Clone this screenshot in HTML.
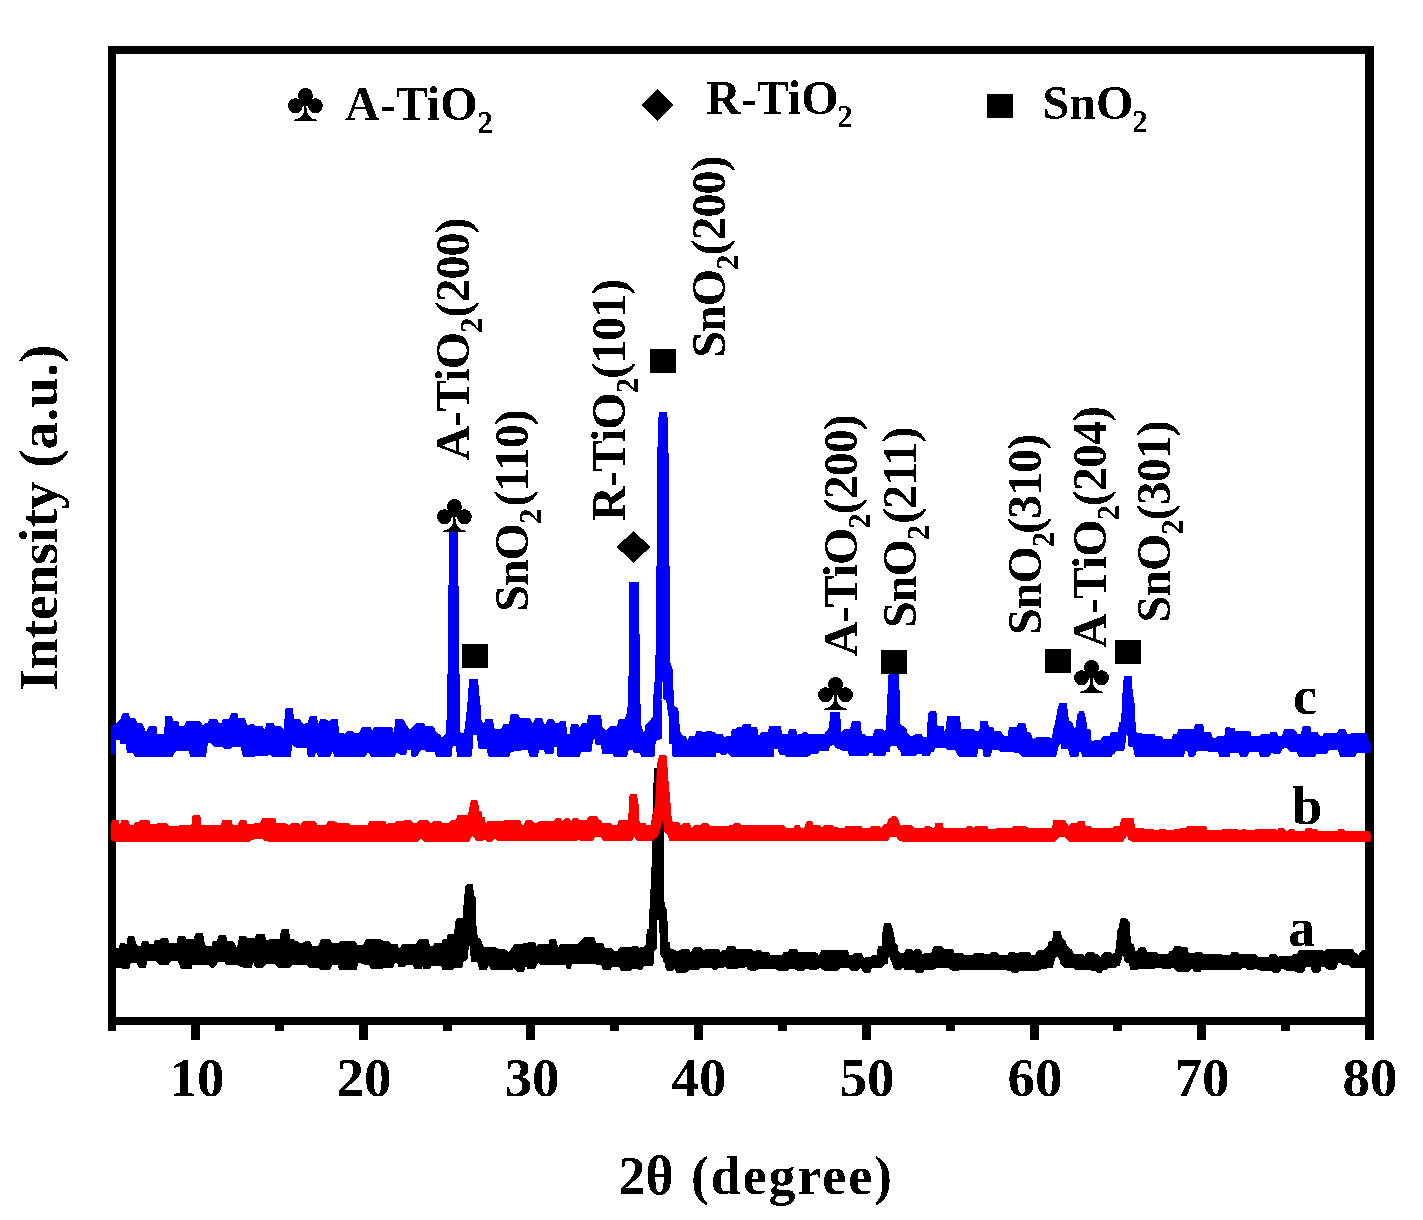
<!DOCTYPE html>
<html><head><meta charset="utf-8"><style>
html,body{margin:0;padding:0;background:#fff;width:1423px;height:1220px;overflow:hidden}
svg{display:block}
text{font-family:"Liberation Serif",serif;font-weight:bold;fill:#000}
</style></head><body>
<svg width="1423" height="1220" viewBox="0 0 1423 1220">
<defs>
<filter id="bin" x="0" y="0" width="100%" height="100%" color-interpolation-filters="sRGB"><feComponentTransfer><feFuncA type="discrete" tableValues="0 1"/></feComponentTransfer></filter>
<g id="club"><circle cx="0" cy="-25.6" r="7.5"/><circle cx="-10" cy="-15.3" r="7.4"/><circle cx="10" cy="-15.3" r="7.4"/><path d="M-3,-22 L3,-22 L4,-15 L-4,-15 Z"/><path d="M-1,-15 L1,-15 L1.3,-10 Q3,-4 7,-2.4 L11.5,-1.3 L11.5,0 L-11.5,0 L-11.5,-1.3 L-7,-2.4 Q-3,-4 -1.3,-10 Z"/></g>
</defs>
<g filter="url(#bin)">
<!-- frame -->
<g fill="#000">
<rect x="108" y="46" width="1266" height="8"/>
<rect x="108" y="1017" width="1266" height="8"/>
<rect x="108" y="46" width="8" height="979"/>
<rect x="1365" y="46" width="9" height="979"/>
<rect x="108" y="1025" width="8" height="6"/>
<rect x="191" y="1025" width="9" height="15"/>
<rect x="275" y="1025" width="9" height="6"/>
<rect x="359" y="1025" width="9" height="15"/>
<rect x="443" y="1025" width="9" height="6"/>
<rect x="526" y="1025" width="9" height="15"/>
<rect x="610" y="1025" width="9" height="6"/>
<rect x="694" y="1025" width="9" height="15"/>
<rect x="778" y="1025" width="9" height="6"/>
<rect x="862" y="1025" width="9" height="15"/>
<rect x="946" y="1025" width="9" height="6"/>
<rect x="1030" y="1025" width="9" height="15"/>
<rect x="1113" y="1025" width="9" height="6"/>
<rect x="1197" y="1025" width="9" height="15"/>
<rect x="1281" y="1025" width="9" height="6"/>
<rect x="1365" y="1025" width="9" height="15"/>
</g>
<path fill="#000" d="M111,948 115.5,947.9 118.7,947.9 119.8,943.2 125,943.2 126.5,944.8 127.7,936.3 134.5,936.3 136.1,943.7 137.7,945.8 140.8,945.8 141.9,941.6 148.2,941.6 149.3,944 153.5,944 155,940 159.8,940 160.9,938.4 168.2,938.4 169.3,942.7 176.7,942.7 177.7,936.3 185.1,936.3 186.7,939.5 193.5,939.5 195.1,933.5 203,933.5 204.6,942.7 206.2,946.1 211.5,946.1 212.5,941.6 216.7,941.6 218.8,934.8 226.2,934.8 227.3,941.6 233.6,941.6 236.8,947.9 239.4,936.3 246.2,936.3 248.4,938.4 254.2,938.4 256.3,934.2 264.8,934.2 266.3,940.6 269,939.5 279.5,939.5 281.1,929.5 289,929.5 290,939 294.3,939 295.3,941.6 298.5,941.6 299.5,943 302.7,943 304.8,941.6 310.1,941.6 312.2,945.8 318.5,945.8 320.6,939.5 330.1,939.5 332.2,943.4 337.5,943.4 339.6,941.6 355.4,941.6 357.5,945.3 361.7,945.3 364,943.2 366,939.5 381.8,939.5 383.9,941.6 389.1,941.6 391.2,944.2 397.6,944.2 399.2,948.5 402.4,943.8 416.1,943.8 418.2,939.6 428.7,939.6 429.8,945.9 433,945.9 434,943.3 441.4,943.3 442.4,939.6 446.6,939.6 447.7,934.3 454,934.3 455.1,922.7 456.1,918.5 462.5,918.5 463.5,904.8 465.1,886.9 466.7,884.2 473,884.2 474,895.3 475.6,897.4 476.2,922.7 477.2,934.3 478.3,938.5 480.4,938.5 483.5,945.9 485.6,947.5 496.2,947.5 498.3,949.1 504.6,949.1 508.8,952.2 511,949.1 514.1,944.3 521.5,944.3 523,943.3 527,943.3 528.9,941.7 535.2,941.7 536.2,946.4 538,944.3 540,943.9 549,943.9 549.5,939.4 556.2,939.4 558,947.5 559.8,943.9 577.9,943.9 580,941.2 585,936.7 594,936.7 596,943 603,943 605,948.4 612,948.4 614,951 617.5,951 619.3,947.5 630,947.5 632,946.6 635,946 637,946 639,948 640.2,947 643.5,947 644.8,945.3 646,944 646,934.1 647.1,934.1 647.1,928.9 649.1,928.9 649.1,908.9 650.1,908.9 650.3,893.4 651.8,861 652.7,805 654,769 654.4,768 662,768 663,790 664,841 664,899 665.8,908.9 667.2,908.9 667.2,921 667.8,921 667.8,942 669.8,942 669.8,946.6 671,948.6 675,949.9 677,951.8 682.4,948.9 685,949 689.2,949 690.8,952.7 693.4,947.4 701.9,947.4 703.5,950.6 706,949 718.7,949 720.5,952.1 722,950 726,950 727.2,945.8 734.5,945.8 736.6,949 751.4,949 753.5,951.6 755.6,950.4 760.9,950.4 763,952.1 769.3,952.1 770.4,955.3 782,955.3 783,952.1 788.3,952.1 789.4,949 796.7,949 798.8,952.1 806.2,952.1 808.3,952.5 816.8,952.5 818.8,955.3 821,950.4 830,950.6 848,950.6 849.5,955.3 852.1,955.3 854.2,952.7 861.6,952.7 863.7,958 865.8,956.9 870,956.9 872.2,955.3 876.4,955.3 878,946.4 881.6,946.4 882.7,928.4 884.3,923.2 891.1,923.2 892.7,929 894.3,935.3 895.4,943.2 897.5,945.3 898.5,951.6 900.6,953.2 903.8,953.2 905.4,949.5 912.2,949.5 913.3,951.1 914.3,949.5 920.7,949.5 922.8,954.3 924.9,952.7 931.2,952.7 933.3,946.4 942.8,946.4 944.9,949.5 953.3,949.5 954.4,953.7 956.5,952.7 962.8,952.7 964.9,955.3 972.3,955.3 975,952.7 983.4,952.7 985.5,954.3 989.8,954.3 990.8,952.2 997.1,952.2 999.2,955.3 1007.7,955.3 1008.7,952.2 1015,952.2 1017,953.8 1019.3,952.2 1029.8,952.2 1031.9,955.3 1035.1,955.3 1037.2,950.4 1042.5,950.4 1044.6,949 1047.7,945.9 1048.8,941.1 1052,941.1 1053.5,931.1 1060.4,931.1 1062.5,937.9 1065.7,941.6 1067.8,946.9 1072,949.5 1074.1,953.8 1082.5,953.8 1084.6,955.9 1086.7,952.2 1094.1,952.2 1096.2,954.3 1098,954.3 1100.4,956.9 1103.6,952.2 1111,952.2 1112.5,954.3 1115,952.2 1116,946.4 1117.1,931.6 1118.7,927.4 1119.7,922.1 1120.8,918.4 1126.6,918.4 1129.8,922.1 1130.3,933.7 1131.3,943.2 1134,944.8 1135.6,951.6 1137.7,949.5 1139.2,947.4 1145.6,947.4 1147.1,951.6 1148.7,952.4 1157.2,952.4 1158.2,954 1167.7,954 1169.8,951.1 1171.9,951.1 1174,946.4 1181.4,946.4 1182.5,947.4 1187.7,947.4 1188.8,953.2 1193,953.2 1195.1,952.2 1201.4,952.2 1203.5,954.3 1221.5,954.3 1223.6,955.3 1229.9,955.3 1231,952.2 1237.3,952.2 1239.4,954.3 1256,954.3 1258.4,957.4 1262.6,957.4 1268.4,957.3 1269.3,954.4 1276.9,954.4 1278.2,957.8 1279.4,955.7 1290.4,955.7 1292,956 1293.7,954 1297.1,954 1298.8,950.2 1323.2,950.2 1324,951.4 1325.8,949.3 1352.8,949.3 1355.3,952.7 1358.7,954.8 1361.2,950.6 1370,950.6 1370,967.5 1350.2,967.5 1348.5,964.9 1341.8,964.9 1341,963.2 1338.4,963.2 1335.9,969.6 1327.5,969.6 1324.9,967 1321.6,967 1319.9,972.5 1312.3,972.5 1310.6,966.6 1308.9,966.6 1305.5,967.5 1303.9,972.5 1296.3,972.5 1294.6,970.4 1285.3,970.4 1281.9,968.3 1279.4,972.5 1272.6,972.5 1271,970.4 1260,970.4 1255.2,969 1253.1,970.1 1246.8,970.1 1245.8,968 1242.6,968 1240.5,970.1 1215,970.1 1212,969.6 1201.4,969.6 1200.4,972.2 1194,972.2 1192,968 1188.8,972.2 1177.2,972.2 1174,968 1171.9,968 1169.8,969 1162.4,969 1160.4,967.5 1156.2,967.5 1154,969 1139.2,969 1137.1,970.1 1130.3,970.1 1128.7,962.7 1126.6,962.7 1124.5,961.1 1122.9,954.8 1121.3,961.1 1119.4,965.9 1117.3,965.9 1115.2,968 1108.9,968 1106.8,970.1 1103.6,970.1 1101.5,972.7 1097.3,972.7 1095.2,970.6 1091,970.6 1089.9,969.6 1075.1,969.6 1073,968 1071,968 1068.8,967.5 1063.5,967.5 1060.4,964.3 1059.3,959 1057.2,956.4 1055.1,958 1053,967.5 1048.8,967.5 1046.7,969 1041.4,969 1039.3,970.6 1034,970.6 1031.9,970.4 1020.3,970.4 1018.2,972.7 1011.9,972.7 1010,970.6 1006.6,970.6 1005,969.6 988.7,969.6 975,969.6 961.8,969.6 959.7,970.6 951.2,970.6 948,968 936.5,968 934.4,969.6 924.9,969.6 922.8,972.7 916.4,972.7 914.3,970.1 904.8,970.1 902.7,966.9 901.7,969.6 894.3,969.6 891.1,961.6 889,955.3 887.4,964.3 884.8,964.3 882.7,967.4 872.2,967.4 870,972.7 863.7,972.7 860.6,968 858.5,970.6 851.1,970.6 847.9,967.8 840.5,967.8 838.4,970.6 823.7,970.6 820,968 817.8,969.5 808.3,969.5 806.2,968.5 804.1,970.6 796.7,970.6 793.6,968.5 790.4,968.5 788.3,970.6 777.8,970.6 775.6,969 758.8,969 756.7,970.6 749.3,970.6 745.6,966.4 744,968 738.7,968 736.6,969 727.2,969 725,966.4 724,967.4 718.7,967.4 717,969.5 713,969.5 711.4,968 700.8,968 698.7,970.1 689.2,970.1 687,972.2 685,972.8 676.3,972.8 674.4,968.9 673,970.9 667.2,970.9 665.2,967 665.2,963.6 663.2,962.3 663.2,959 661.2,956.4 660,954.5 660,932.8 659,932.8 658.5,919.7 657,919.7 657,948.6 654,951 654,963.6 652.8,965.6 651.4,965.9 644.2,965.9 641.6,969.9 638.3,969.9 637.6,968.9 632,968.9 630,970.9 621,970.9 619,967.3 612,967.3 610.3,970 603,970 601,964.6 596,964.6 594,963.7 572.4,963.7 570.6,969.1 567,969.1 565.2,964.6 540,964.6 538,962.8 535.2,969.1 527.8,969.1 525.7,965.9 523.6,972.2 517.3,972.2 514,968 512,970.1 504.6,970.1 502.5,969.6 490.9,969.6 488.8,965.4 486.7,970.1 479.3,970.1 477.2,961.7 470.9,961.7 469.8,945.9 468.8,945.9 467.7,959.6 463.5,961.7 462.5,967.5 455.1,967.5 453,970.1 442.4,970.1 441,965.9 431.9,965.4 429.8,969.1 423.5,969.1 422.4,965.9 421.4,969.1 414,969.1 412.9,964.9 406.6,964.9 404.5,967 398.2,967 397.1,962.8 395,962.8 393.4,967.4 385,967.4 381.8,969 371.2,969 369,965.3 361.7,964.3 358.6,962.2 356.5,970 339.6,970 337.5,965.3 332.2,965.3 330.1,969.5 319.6,969.5 317.5,967.4 309,967.4 307,965.3 292.2,965.3 290,967.4 277.4,967.4 275.3,964.3 265.8,964.3 263.7,967.4 255.3,967.4 253,962.2 252.1,967.4 250.5,967.4 243.1,967.4 235.7,964.8 226.2,964.8 224.1,961.6 218.8,961.6 214.6,967.4 210.4,967.4 208.3,964.8 192.5,964.8 191.4,969 180.9,969 177.7,960.6 171.4,960.6 168.2,965.3 159.8,965.3 155.6,960.6 147.2,960.6 146.1,967.4 138.7,967.4 136.6,963.2 130.8,963.2 129.2,969 122.9,969 121.9,968 111,968Z"/>
<path fill="#f00" d="M110.8,823.7 112.4,820 118.7,820 119.8,824.8 121.3,820 128.2,820 129.8,824.8 133.5,824.8 135.6,822.1 138.7,822.1 140.8,820 149.3,820 150.3,823.7 155.6,823.7 157.7,823.2 167.2,823.2 169.3,825.8 178.8,825.8 179.8,825.1 191.4,825.1 192.5,815.3 200.4,815.3 200.9,825.1 211.5,825.1 213.6,825.3 221,825.3 222,820 231.5,820 232.5,824.8 237.8,824.8 240,820 246.2,820 247.3,823.7 253.6,823.7 256.3,822.7 260.5,822.7 262,818.4 275.3,818.4 276.4,823 285.8,823 288,824.8 290,824.8 291.6,823 298.5,823 300.6,825.3 302.2,821.6 315.4,821.6 317.5,825.1 325.9,825.1 328,821.6 335.4,821.6 337.5,823.2 349,823.2 351.2,825.3 361.7,825.3 363.8,825.1 368,825.1 369,821.6 385,821.6 387,824.8 389,823 394.4,823 396.5,821.1 400,821.3 401.3,821.6 403.4,820.6 411.9,820.6 413,822.7 417.1,822.7 418.2,820.6 428.7,820.6 430.8,823.2 433,821.3 441.4,821.3 442.4,823.2 448.8,823.2 450.9,820 456.1,820 457.2,815.3 462.5,815.3 464.6,814.8 467.7,814.8 468.8,811.6 470.4,801.6 472,800 477.2,800 478.8,805.8 479.3,811.6 481.4,811.6 482.5,817.4 485.1,817.4 485.7,823.7 487.8,821.1 494.1,821.1 496.2,821.3 501.5,821.3 503.6,820.6 520.4,820.6 521.5,824.8 523.6,824.8 525.7,820.6 532,820.6 534,822.7 537,822.7 539.4,821.1 545,821.1 546.3,821.2 553.7,821.2 555.3,818.5 561,818.5 562.5,821.7 564.2,818.5 569.5,818.5 571.6,821.7 572.7,818.5 578,818.5 580,820.1 586.4,820.1 588.5,816.4 597,816.4 599,820.1 601.1,820.1 602.2,822.7 610.6,822.7 612.7,825.4 617,825.4 619,820.1 627.5,820.1 628.5,813.2 629.6,794.3 637,794.3 638.6,804.8 639.6,822.7 641.2,823.3 645.4,823.3 646.5,824.8 650.7,824.8 651.7,818.5 654.9,805.9 656,784.8 657,763.7 659.1,755.3 666.5,755.3 667.5,766.9 668.6,782.7 670.7,804.8 671.8,820.6 673.9,821.7 678.1,821.7 681.2,825.4 683.4,823.3 690,823.3 691.3,827.9 694.5,825.3 700.8,825.3 701.9,823.2 708.2,823.2 710.3,826.6 727.2,826.6 729,825.3 732,825.3 734.5,823.2 739.8,823.2 742,825.3 770.4,825.3 772.5,825.1 783,825.1 787.2,827.9 793.6,827.9 794.6,825.3 799.9,825.3 801,827.9 804.1,827.9 806.2,821.6 812.5,821.6 813.6,825.3 819.9,825.3 822,827.9 824.1,825.3 832.6,825.3 834,826.9 837.4,826.9 839.5,828.5 843.7,828.5 845.8,826.1 861.6,826.1 862.7,827.9 869,827.9 871.1,826.1 879.5,826.1 881.6,827.9 883.8,824.2 886.9,824.2 888.5,819 892.2,816.3 896.4,816.3 898.5,820 900.6,825.8 903.8,825.3 912.2,825.3 914.3,827.9 923.8,827.9 924.9,826.4 930.1,826.4 932.3,827.9 934.3,827.9 935.4,823.2 942.8,823.2 943.8,828.2 952.3,828.2 954.4,827.9 966,827.9 967,826.1 971.2,826.1 973.3,827.9 975,826.4 987.6,826.4 988.7,829 995,829 997.1,828.2 1005.6,828.2 1006.6,827.9 1011,827.9 1013,826.4 1026.6,826.4 1028.8,828.2 1034,828.2 1036.1,827.9 1052,827.9 1053.5,820 1064.6,820 1066.7,822.7 1068.8,826.4 1070.9,823.2 1076.2,823.2 1078.3,821.1 1084.6,821.1 1085.7,825.8 1087.8,826.4 1091,826.4 1093,828.2 1112,828.2 1114,826.4 1119.4,826.4 1120.5,821.6 1121.6,818.2 1133.7,818.2 1134.8,825.8 1135.8,828.5 1144.2,828.5 1146.4,829.5 1154.8,829.5 1156.9,830.6 1159,829.5 1166.4,829.5 1168.5,830.6 1172.7,830.6 1174,829.5 1179,829.5 1181.1,828 1185.4,828 1186.4,826.4 1206.4,826.4 1207.5,830.6 1219,830.6 1221.2,829.5 1238,829.5 1240,830.6 1242,829.5 1246,829.5 1248,830.6 1252,830.6 1255,829.5 1267.6,829.5 1269.8,829.3 1275.5,829.3 1277,830.9 1278.3,828.2 1284,828.2 1287.2,831.7 1290,829.1 1294,829.1 1295.3,830.9 1304.6,830.9 1305.8,828.2 1311.9,828.2 1313,829.1 1316.7,829.1 1318.3,830.9 1338,830.9 1338.5,829.1 1344.2,829.1 1345,830.9 1368.4,830.9 1370.5,832.9 1370.9,835 1370.9,841.8 1131.6,841.6 1128.5,840 1126.9,835.3 1124.2,840 1123,841.6 1069,841.6 1067,840 1064.6,836.9 1059.3,836.9 1056,840 1055,841.6 902,841.6 898,840 896.4,836.4 890,836.4 888,841 669.6,841.2 668,835.9 664.4,832.2 662.8,820.1 661.2,827 658,836.4 654,839.6 651.7,841.2 637,841.2 634.3,836.4 632,841.2 603.2,841.2 601.1,837 595.3,837 593,840.6 580,840.6 578,839.6 575.8,841.2 546.3,841.2 545,841.1 498,841.1 495.1,838.5 492,841.6 486.7,841.6 485,839 483.5,840.6 476,840.6 472.5,835.3 470,840.6 469,841.6 423.5,841.6 420.8,838.5 418,841.6 268,841.6 264,840.6 262.6,839 256.3,839 252,840 250,841.6 116,841.6 110.8,840.6Z"/>
<path fill="#00f" d="M111,726 116,723 117,722.7 120.5,719 122.6,713.2 129,713.2 130,718 135.3,718 137,722.7 141.6,722.7 143.7,726 145.8,732 149,726 156.4,726 157.4,734 164.3,734 164.8,716 172.2,716 173.2,721.6 178.5,721.6 179.6,726 183.8,726 186,721.6 200.6,721.6 202.8,726 204.9,723 208,723 209,719.5 217.5,719.5 218.6,722.7 221.8,722.7 222.8,719.5 229,719.5 231,713.2 237.5,713.2 238.6,718.4 245,718.4 247,725 253.4,724 255,726 263,726.4 264.5,730 266.6,723 274,723 275,726 281,726 283.5,729.5 285.6,708.4 293,708.4 294,719.5 300,719.5 303.5,724.8 305.6,722.7 307.7,722.7 309.8,716.3 317,716.3 318,723.7 320,719.5 326.7,719.5 329,721 331,719.5 338,719.5 339,732.7 345,733.7 346.7,731.3 353,731.3 354,732.7 359,732.7 361.5,727.6 371,727.6 372,730.6 374,727 392,726.4 394,733.7 395,719.5 403.6,719.5 406,724 409.5,729.6 416.8,723 424.3,723 425.3,726.4 433.7,726.4 436,732 441,735 442,738 446,733 447,707 448,640 449,531 458,531 459,640 460,707 460.5,732.8 464,732.8 466,717 468,697 469,679 478,679 479.6,697 481,710 481.5,720 484,724.3 485.4,719 492.8,719 494.9,729.6 501,729.6 503,724.3 509,724.3 510.7,714.3 518,714.3 520,718.5 530.7,718.5 532.8,724.3 535,718.5 542.3,718.5 544.4,724.3 545,724.9 548,719.6 553.4,719.6 555.5,722.7 558.7,722.7 560.8,721 566,721 567,733.8 569.8,733.8 570.8,724.3 577.7,724.3 579.8,727.5 582,723.3 587,723.3 588,714.8 601,714.8 602.4,727 606,730.6 610,726.4 616.7,726.4 618.8,719 625,719 626.7,713.8 628.3,700 629.3,582 638.8,582 640.4,700 641,724.3 644,733.8 645.7,724.3 649.4,721 652.5,717 653.6,691.6 655,677 655.7,647 656.5,566 657,471 658,422 659,412 667,412 668,422 668.8,471 669.5,566 670,640 670,661 672.5,668.5 673.6,691.6 673.6,705.4 678.3,708.5 680,730.6 682,734.9 686.2,736.4 687.3,740.7 689.4,736 695,736 696.3,731.2 701.8,731.2 702.5,732 705.5,732 706.4,731.2 712,731.2 713,732 715.3,732 716,733.9 722.9,733.9 723.7,736.8 725.4,736.8 726.3,736 731,736 731.7,729.6 735.5,729.6 736.8,727.1 741.4,727.1 742.7,724.2 750.7,724.2 751.6,727.1 756.6,727.1 757.5,729.2 758.3,735.1 760,735.1 760.8,732 767.6,732 769.3,726.1 781,726.1 782,733.9 787.8,733.9 789,729.2 796.3,729.2 797,736 799,733.9 801.5,733.9 803,732.2 807.2,732.2 808.5,733.8 810.6,734.3 817,734.3 818,733.8 824.5,733.8 826.6,731 828.8,727.9 830.4,712 840,712 841.5,732.7 843.7,729.5 850,729.5 852,721.5 860.7,721.5 861.8,734.3 865,734.3 866,736 872.4,736 874.6,729.5 883,729.5 884,731.6 886,729 887,700 887.8,690 888.3,674.5 899,674.5 899.5,690 899.8,700 900,724 906.5,728.4 907.6,733.8 912,736.4 915,734.3 921.5,734.3 923.6,737 926.8,737 927.9,713.5 929.4,711.4 936.4,711.4 937.6,725.9 943.4,725.9 945,733.8 946,725 947,716.4 960.3,716.4 960.8,729.5 973,729 975,731.1 979.3,731.1 980.3,721.1 987.7,721.1 988.8,726.9 993,726.9 994.6,731.1 1000.4,731.1 1004.6,735.9 1007.7,735.9 1008.8,727.4 1016.2,727.4 1018.3,723.2 1025.6,723.2 1027.2,732.2 1030.4,732.2 1033,739.6 1036,737.4 1050,737.4 1052,738 1053,729.5 1055.2,722.2 1057.8,707.4 1059.4,703.2 1066.8,703.2 1068.9,720.6 1072,722.2 1075.2,729.5 1077.3,714.8 1079.4,711.1 1084.2,711.6 1086.3,720.1 1087.4,729.6 1090.5,729.6 1091.6,741.2 1093.7,740.6 1100,740.6 1102.1,736.4 1109.5,736.4 1110.6,732.2 1118,732.2 1119,722.2 1121.1,722.2 1122.2,696.9 1123.7,676.9 1124.3,675.8 1131.6,675.8 1132.7,691.6 1134.8,705.3 1135.9,731.7 1137,732.7 1141,732.7 1142.2,734.3 1154.8,734.3 1155.9,736.4 1162.2,736.4 1163.3,739.1 1171.7,739.1 1172.8,734.3 1177,734.3 1178,729.6 1193.8,729.6 1194.9,724.3 1203.3,724.3 1204.4,731.7 1210.7,731.7 1212.8,738 1216,738 1217,735.9 1224.4,735.9 1225.5,727.5 1230,727.5 1234.5,728 1235.5,731.6 1250.3,731.6 1251.4,736.4 1258.7,736.4 1261.4,734.3 1269.3,734.3 1270.3,732.2 1276.6,732.2 1278.8,735.9 1282,735.9 1284,729.5 1294.6,729.5 1297.7,734.3 1300.9,734.3 1302.5,726.4 1310.4,726.4 1311.4,732.2 1317.8,732.2 1319.9,735.9 1323,735.9 1324,732.7 1336.7,732.7 1338.8,729.5 1345.2,729.5 1347.3,734.3 1350.4,734.3 1352.5,732.7 1366.2,732.7 1369.4,741.1 1371,745 1371,745 1370.5,752.7 1356.8,752.7 1355.7,756.4 1339.9,756.4 1337.8,749.6 1329.4,749.6 1327.2,753.8 1316.7,753.8 1315,756.4 1298.8,756.4 1296.7,751.7 1290.4,751.7 1288.2,749.6 1285,747.5 1282,749.6 1279.8,754.3 1274.5,754.3 1272,752.7 1269.3,756.4 1259.8,756.4 1258.7,752.2 1249.2,752.2 1247,756.4 1239.8,756.4 1238.7,752.7 1230.3,752.7 1230,756.4 1219,756.4 1218,752.2 1208.6,752.2 1206.5,750.6 1197,750.6 1194.9,756.4 1188.6,756.4 1187,750.6 1185.4,750.6 1184,756.4 1134.8,756.4 1132.7,746.4 1128.5,746.4 1127,730.6 1125.3,744.3 1124.3,750.6 1115.8,750.6 1115,754.3 1113,754.3 1112,756.4 1082,756.4 1081,752.2 1079.4,752.2 1078.4,756.4 1070,756.4 1067.8,749 1061.5,749 1060.4,743.2 1058.3,747.5 1056.2,756.4 1021.4,756.4 1019,752.7 1015,752.7 1013,751.7 1000.4,751.7 998.2,749.6 992,749.6 990.9,756.4 983.5,756.4 982.4,749 978.2,749 977.2,756.4 958.2,756.4 955,749.6 946.6,749.6 944.5,747.5 935.3,747.6 934,751.9 931,751.9 930,756.1 922.5,756.1 921.5,753.5 917,753.5 916.1,756.1 901.2,756.1 900,749.7 898,749.7 897,746 890.6,746 889.5,751.9 886.3,751.9 885.2,756.1 873.5,756.1 872.4,753 869.3,753 868.2,756.1 849,756.1 848,751.3 842.6,750.8 835,747.6 834,744.4 829.8,746.5 828.8,751.3 819,751.3 818,754 811.7,754 809.6,756.1 808,756.6 786,756.6 784.5,754.5 779.4,754.5 777.7,749 774.3,749 774,756.6 730.5,756.6 728,752.8 726.3,754.5 720.4,754.5 719.5,752.4 716.5,752.4 716,756.6 695,756.6 672.5,756.5 671.5,743.8 669,743.8 668.5,716 667.5,710 666,700 663,699 663,682 661.5,682 661.5,739 655.7,741 654.6,756.5 641,756.5 640,752.8 633.5,752.8 632.5,749.6 629,749.6 627,756.5 613.5,756.5 612.5,753.8 602,753.8 601,744.4 595.6,744.4 594.5,738 593,741 591.4,752.3 580.8,752.3 580,756.5 557.6,756.5 556.6,747 554,747 553.4,753.8 545,753.8 544,749.6 539.1,749.6 538,756.5 529.6,756.5 527.5,749.6 510.7,752 509.6,756.5 488.5,756.5 486.4,749 479,749 478,747 477,735 473.2,735 472.7,747 471.7,756.5 457,756.5 455.9,746 452.7,746 451.6,756.5 435.8,756.5 434.8,752.3 426.4,752.3 424.3,750 421,750 416.9,756.5 411.6,756.5 410.5,749.6 407.4,749.6 406,754.4 400,754.4 396,752.7 395,756.4 371,756.4 367.8,752 365.7,756.4 334,756.4 333,750.6 330,756.4 318,756.4 316,752 315,756.4 307.7,756.4 306.6,747.4 296,747.4 292,745 291,756.4 272,756.4 270.8,755.3 255,756.4 242.8,756.4 240.7,747 232,747 230,749 224,749 221.8,746.4 214,746.4 211,743 208,743 206,756.4 190,756.4 189,751 182,751 175.4,751.6 173,756.4 134.2,756.4 133.2,752.7 126.9,752.7 125.8,744 120.5,744 119.5,740 116.5,740 116,754.3 111,754.3Z"/>
<!-- markers -->
<use href="#club" x="454.4" y="532"/>
<use href="#club" x="835.5" y="710"/>
<use href="#club" x="1091.5" y="693"/>
<path d="M633.5,530.8 L650.2,547 L633.5,563 L616.8,547 Z"/>
<rect x="462" y="644" width="26" height="24"/>
<rect x="650" y="349" width="26" height="24"/>
<rect x="881" y="650" width="26" height="24"/>
<rect x="1045" y="649" width="26" height="24"/>
<rect x="1115" y="640" width="26" height="24"/>
<!-- peak labels -->
<g font-size="48" letter-spacing="-1">
<text transform="translate(469,460.5) rotate(-90)">A-TiO<tspan font-size="31" dy="13">2</tspan><tspan dy="-13" dx="1">(200)</tspan></text>
<text transform="translate(527.5,611.8) rotate(-90)">SnO<tspan font-size="31" dy="13">2</tspan><tspan dy="-13" dx="3">(110)</tspan></text>
<text transform="translate(625.4,520.8) rotate(-90)">R-TiO<tspan font-size="31" dy="13">2</tspan><tspan dy="-13">(101)</tspan></text>
<text transform="translate(724.5,357.7) rotate(-90)">SnO<tspan font-size="31" dy="13">2</tspan><tspan dy="-13">(200)</tspan></text>
<text transform="translate(856.5,656.2) rotate(-90)">A-TiO<tspan font-size="31" dy="13">2</tspan><tspan dy="-13">(200)</tspan></text>
<text transform="translate(915.8,628) rotate(-90)">SnO<tspan font-size="31" dy="13">2</tspan><tspan dy="-13" dx="2">(211)</tspan></text>
<text transform="translate(1040.8,635) rotate(-90)">SnO<tspan font-size="31" dy="13">2</tspan><tspan dy="-13" dx="-1">(310)</tspan></text>
<text transform="translate(1106.3,648) rotate(-90)">A-TiO<tspan font-size="31" dy="13">2</tspan><tspan dy="-13">(204)</tspan></text>
<text transform="translate(1169.5,622.5) rotate(-90)">SnO<tspan font-size="31" dy="13">2</tspan><tspan dy="-13">(301)</tspan></text>
</g>
<g font-size="54">
<text x="1293" y="713.5">c</text>
<text x="1292.2" y="823.5">b</text>
<text x="1288.2" y="946.3">a</text>
</g>
<!-- tick labels -->
<g font-size="55" text-anchor="middle">
<text x="197" y="1096">10</text>
<text x="364" y="1096">20</text>
<text x="532" y="1096">30</text>
<text x="699" y="1096">40</text>
<text x="867" y="1096">50</text>
<text x="1035" y="1096">60</text>
<text x="1202" y="1096">70</text>
<text x="1370" y="1096">80</text>
</g>
<text x="618.5" y="1194" font-size="54">2θ <tspan dx="3.7" letter-spacing="1.9">(degree)</tspan></text>
<text transform="translate(57,690.8) rotate(-90) scale(1.026,1)" font-size="54">Intensity (a.u.)</text>
<!-- legend -->
<use href="#club" x="305.4" y="121"/>
<text x="345" y="120" font-size="48">A-TiO<tspan font-size="31" dy="12.5">2</tspan></text>
<path d="M657.5,89.3 L674,105 L657.5,120.8 L641,105 Z"/>
<text x="706" y="114" font-size="48">R-TiO<tspan font-size="31" dy="13" dx="-1.2">2</tspan></text>
<rect x="987" y="94" width="26" height="24"/>
<text x="1042.6" y="119" font-size="48">SnO<tspan font-size="31" dy="12.5" dx="-1">2</tspan></text>
</g>
</svg>
</body></html>
